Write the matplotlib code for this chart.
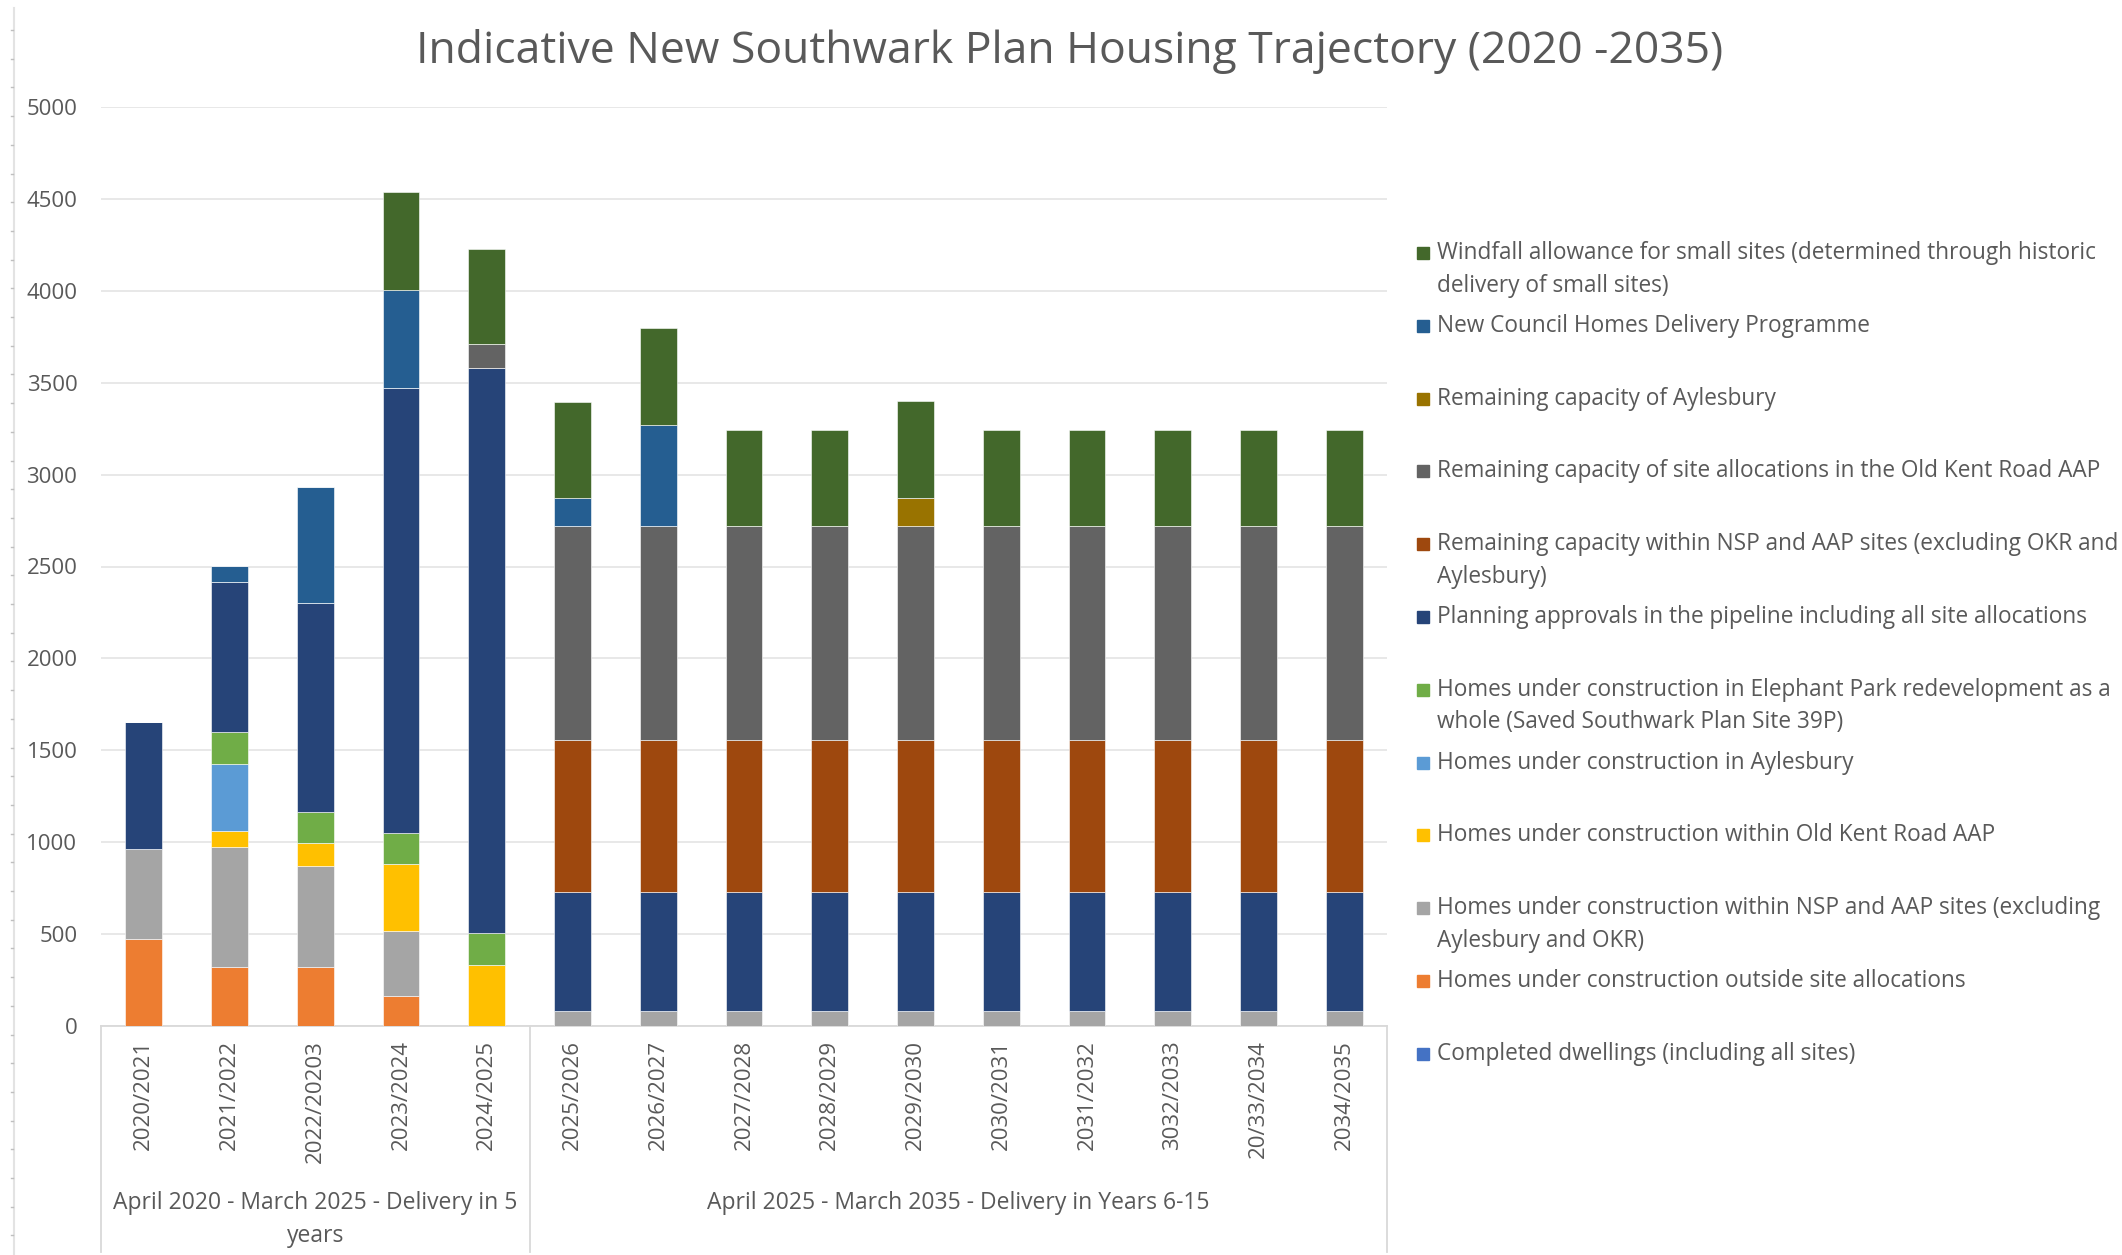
import numpy as np
import matplotlib.pyplot as plt
from matplotlib.lines import Line2D
from matplotlib.patches import Rectangle
import matplotlib.transforms as mtransforms

plt.rcParams['font.family'] = ['Open Sans', 'DejaVu Sans']

# --- data (stack order: bottom -> top) ---
years = ['2020/2021', '2021/2022', '2022/20203', '2023/2024', '2024/2025',
         '2025/2026', '2026/2027', '2027/2028', '2028/2029', '2029/2030',
         '2030/2031', '2031/2032', '3032/2033', '20/33/2034', '2034/2035']

completed = [0, 0, 0, 0, 0, 0, 0, 0, 0, 0, 0, 0, 0, 0, 0]
uc_outside = [475, 320, 320, 165, 0, 0, 0, 0, 0, 0, 0, 0, 0, 0, 0]
uc_nsp_aap = [490, 655, 550, 350, 0, 80, 80, 80, 80, 80, 80, 80, 80, 80, 80]
uc_okr = [0, 85, 125, 365, 330, 0, 0, 0, 0, 0, 0, 0, 0, 0, 0]
uc_aylesbury = [0, 365, 0, 0, 0, 0, 0, 0, 0, 0, 0, 0, 0, 0, 0]
uc_elephant = [0, 175, 170, 170, 175, 0, 0, 0, 0, 0, 0, 0, 0, 0, 0]
approvals = [690, 815, 1135, 2420, 3075, 650, 650, 650, 650, 650, 650, 650, 650, 650, 650]
rem_nsp_aap = [0, 0, 0, 0, 0, 825, 825, 825, 825, 825, 825, 825, 825, 825, 825]
rem_okr = [0, 0, 0, 0, 130, 1165, 1165, 1165, 1165, 1165, 1165, 1165, 1165, 1165, 1165]
rem_aylesbury = [0, 0, 0, 0, 0, 0, 0, 0, 0, 155, 0, 0, 0, 0, 0]
council_homes = [0, 85, 630, 535, 0, 155, 550, 0, 0, 0, 0, 0, 0, 0, 0]
windfall = [0, 0, 0, 530, 520, 520, 525, 520, 520, 525, 520, 520, 520, 520, 520]

series = [completed, uc_outside, uc_nsp_aap, uc_okr, uc_aylesbury, uc_elephant,
          approvals, rem_nsp_aap, rem_okr, rem_aylesbury, council_homes, windfall]
labels = [
    'Completed dwellings (including all sites)',
    'Homes under construction outside site allocations',
    'Homes under construction within NSP and AAP sites (excluding\nAylesbury and OKR)',
    'Homes under construction within Old Kent Road AAP',
    'Homes under construction in Aylesbury',
    'Homes under construction in Elephant Park redevelopment as a\nwhole (Saved Southwark Plan Site 39P)',
    'Planning approvals in the pipeline including all site allocations',
    'Remaining capacity within NSP and AAP sites (excluding OKR and\nAylesbury)',
    'Remaining capacity of site allocations in the Old Kent Road AAP',
    'Remaining capacity of Aylesbury',
    'New Council Homes Delivery Programme',
    'Windfall allowance for small sites (determined through historic\ndelivery of small sites)',
]
colors = ['#4472C4', '#ED7D31', '#A5A5A5', '#FFC000', '#5B9BD5', '#70AD47',
          '#264478', '#9E480E', '#636363', '#997300', '#255E91', '#43682B']

groups = ['April 2020 - March 2025 - Delivery in 5\nyears',
          'April 2025 - March 2035 - Delivery in Years 6-15']
group_sizes = [5, 10]

text_col = '#595959'
W, H = 2122, 1255

fig = plt.figure(figsize=(W / 100, H / 100), dpi=100)
ax = fig.add_axes([101 / W, 1 - 1026 / H, 1286 / W, 919 / H])

x = np.arange(len(years))
bottom = np.zeros(len(years))
for vals, col in zip(series, colors):
    vals = np.array(vals, dtype=float)
    ax.bar(x, vals, width=0.43, bottom=bottom, color=col, edgecolor='white', linewidth=0.4, zorder=3)
    bottom += vals

ax.set_xlim(-0.5, len(years) - 0.5)
ax.set_ylim(0, 5000)
ax.set_yticks(np.arange(0, 5001, 500))
ax.yaxis.grid(True, color='#E6E6E6', linewidth=1.3, zorder=0)
for s in ['top', 'right', 'left']:
    ax.spines[s].set_visible(False)
ax.spines['bottom'].set_color('#D9D9D9')
ax.spines['bottom'].set_linewidth(1.3)
ax.set_xticks(x)
ax.set_xticklabels(years, rotation=90)
ax.tick_params(axis='y', length=0, pad=17, labelsize=16, labelcolor=text_col)
ax.tick_params(axis='x', length=0, pad=10, labelsize=16, labelcolor=text_col)

# multi-level category axis: separators + group labels
trans = mtransforms.blended_transform_factory(ax.transData, ax.transAxes)
edges = np.concatenate([[0], np.cumsum(group_sizes)]) - 0.5
for e in edges:
    ax.add_line(Line2D([e, e], [0, -0.246], transform=trans, color='#D9D9D9',
                       linewidth=1.3, clip_on=False))
for g, lo, hi in zip(groups, edges[:-1], edges[1:]):
    for k, line in enumerate(g.split('\n')):
        ax.text((lo + hi) / 2, -0.1926 - k * 0.036, line, transform=trans,
                ha='center', va='center', fontsize=16.5, color=text_col)

# title
fig.text(0.504, 1 - 52 / H, 'Indicative New Southwark Plan Housing Trajectory (2020 -2035)',
         ha='center', va='center', fontsize=32, color=text_col)

# legend (top entry = top of stack)
y0, dy, ldy = 253, 72.8, 32.5
for i, (lab, col) in enumerate(zip(labels[::-1], colors[::-1])):
    yc = y0 + i * dy
    fig.add_artist(Rectangle((1417 / W, 1 - (yc + 6) / H), 12 / W, 12 / H, color=col,
                             transform=fig.transFigure))
    for k, line in enumerate(lab.split('\n')):
        fig.text(1437 / W, 1 - (yc + k * ldy) / H, line, ha='left', va='center',
                 fontsize=16.3, color=text_col)

# left edge ruler
fig.add_artist(Line2D([14 / W, 14 / W], [0, 1 - 8 / H], color='#E3E3E3', linewidth=1.5))
for yy in np.arange(30, H, 28.7):
    fig.add_artist(Line2D([11 / W, 13 / W], [1 - yy / H, 1 - yy / H], color='#BFBFBF', linewidth=1))

fig.savefig('out.png', dpi=100, facecolor='white')
